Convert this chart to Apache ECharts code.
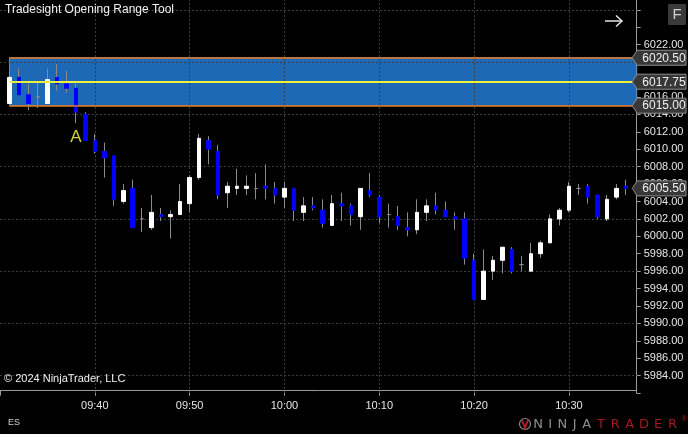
<!DOCTYPE html>
<html><head><meta charset="utf-8">
<script src="https://cdn.jsdelivr.net/npm/echarts@6/dist/echarts.min.js"></script>
<style>html,body{margin:0;padding:0;background:#000;}#c{width:688px;height:434px;}</style>
</head><body><div id="c"></div>
<script>
// ---------- data ----------
const times = ['09:31','09:32','09:33','09:34','09:35','09:36','09:37','09:38','09:39','09:40',
  '09:41','09:42','09:43','09:44','09:45','09:46','09:47','09:48','09:49','09:50',
  '09:51','09:52','09:53','09:54','09:55','09:56','09:57','09:58','09:59','10:00',
  '10:01','10:02','10:03','10:04','10:05','10:06','10:07','10:08','10:09','10:10',
  '10:11','10:12','10:13','10:14','10:15','10:16','10:17','10:18','10:19','10:20',
  '10:21','10:22','10:23','10:24','10:25','10:26','10:27','10:28','10:29','10:30',
  '10:31','10:32','10:33','10:34','10:35','10:36'];
const opens = [6015.25,6018.25,6016.25,6016,6015.25,6018.25,6017.5,6017,6014,6011,
  6009.75,6009.25,6004,6005.5,6002,6001,6002.5,6002.25,6002.5,6003.75,
  6006.75,6011,6009.75,6005,6005.5,6005.5,6005.5,6005.75,6005.5,6004.5,
  6005.5,6002.75,6003.5,6003,6001.25,6003.75,6003.5,6002.25,6005.25,6004.5,
  6002.5,6002.25,6001,6000.75,6002.75,6003.5,6003,6002.25,6002,5997.25,
  5992.75,5996,5997.25,5998.5,5996.75,5996,5998,5999.25,6002,6003,
  6005.5,6005.75,6004.75,6002,6004.5,6005.75];
const closes = [6018.25,6016.25,6015.25,6016,6018,6017.5,6017,6014.25,6011,6009.75,
  6009,6004.25,6005.25,6001,6002,6002.75,6002.25,6002.5,6004,6006.75,
  6011.25,6010,6004.75,6005.75,6005.75,6005.75,6005.5,6005.5,6004.75,6005.5,
  6003,6003.5,6003.25,6001.5,6003.75,6003.5,6002.5,6005.5,6004.75,6002.25,
  6002.5,6001.25,6000.75,6002.75,6003.5,6003,6002.25,6002,5997.5,5992.75,
  5996,5997.25,5998.75,5996,5996.75,5998,5999.25,6002,6003,6005.75,
  6005.5,6004.5,6002.25,6004.25,6005.5,6005.5];
const lows = [6015.25,6016.25,6014.5,6014.75,6015.25,6016.75,6016.5,6013,6011,6009.5,
  6006.75,6003.5,6003.75,6001,6000.5,6000.75,6001.75,5999.75,6002.5,6002.75,
  6006.5,6008.25,6004.25,6003.25,6004.75,6004.75,6004.25,6004.25,6003.75,6003.25,
  6001.75,6001.75,6003,6001,6001.25,6001.75,6001.25,6000.75,6004.5,6001.5,
  6001,6000.75,6000,6000.25,6001.75,6002.5,6002.25,6000.75,5996.75,5992.75,
  5992.75,5995,5995.75,5995.75,5996,5996,5997.5,5999.25,6001.25,6002.75,
  6004.75,6003.75,6002,6001.75,6004.25,6004.75];
const highs = [6018.25,6019.25,6017.5,6017.75,6019.25,6019.75,6019,6017.5,6014.25,6011.75,
  6010.75,6009.25,6006,6006.5,6003.25,6004.75,6003.25,6003,6006,6007,
  6011.75,6011.5,6010.5,6006.25,6007.75,6007,6007.25,6008.25,6006.25,6006.25,
  6005.5,6004.5,6004.5,6004.25,6004.75,6005,6003.75,6005.5,6007.25,6004.75,
  6003.75,6003.5,6002.75,6004.25,6004.25,6005,6004,6002.75,6002.75,5998,
  5998.5,5997.75,5998.75,5998.75,5997.75,5999.25,5999.5,6002.5,6003.25,6006.25,
  6006,6006,6004.75,6004.75,6006,6006.5];
const xTickLabels = ['09:40','09:50','10:00','10:10','10:20','10:30'];
const yLabelMin = 5984, yLabelMax = 6022, yLabelStep = 2;
const gridLevels = [5984,5990,5996,6002,6008,6014,6020,6026];
const orHigh = 6020.5, orMid = 6017.75, orLow = 6015.0;
const orStart = '09:31';
const signalTime = '09:38', signalText = 'A';
const sessionStart = '09:30';

// ---------- helpers ----------
const [h0, m0] = sessionStart.split(':').map(Number);
const toMin = s => { const [h, m] = s.split(':').map(Number); return h * 60 + m - (h0 * 60 + m0); };
const labelOf = v => { const tot = h0 * 60 + m0 + v; return String(Math.floor(tot / 60)).padStart(2, '0') + ':' + String(tot % 60).padStart(2, '0'); };
const xMax = 67.15;
const FONT = '"Liberation Sans", Arial, sans-serif';
const wickData = times.map((t, i) => [toMin(t), opens[i], closes[i], lows[i], highs[i]]);
const bodyData = times.map((t, i) => [toMin(t), opens[i], closes[i], Math.min(opens[i], closes[i]), Math.max(opens[i], closes[i])]);
const sigIdx = times.indexOf(signalTime);
const AXIS = '#9a9a9a';
const GRIDC = '#3e3e3e';

const chart = echarts.init(document.getElementById('c'), null, { renderer: 'canvas' });
chart.setOption({
  backgroundColor: '#000000',
  animation: false,
  grid: { left: 0, right: 51.3, top: -7.57, bottom: 40.9, containLabel: false, outerBoundsMode: 'none' },
  xAxis: {
    type: 'value', min: 0, max: xMax, interval: 10, offset: -2.4,
    axisLine: { show: true, onZero: false, lineStyle: { color: AXIS, width: 1 } },
    axisTick: { show: true, length: 5, lineStyle: { color: AXIS } },
    axisLabel: { margin: 10, color: '#e6e6e6', fontSize: 11, fontFamily: FONT, showMaxLabel: false,
      formatter: v => { const s = labelOf(v); return xTickLabels.includes(s) ? s : ''; } },
    splitLine: { show: false }
  },
  yAxis: {
    type: 'value', position: 'right', min: 5982, max: 6028, interval: yLabelStep, scale: true,
    axisLine: { show: true, onZero: false, lineStyle: { color: AXIS, width: 1 } },
    axisTick: { show: true, length: 4, lineStyle: { color: AXIS } },
    axisLabel: { margin: 7, color: '#e6e6e6', fontSize: 11, fontFamily: FONT,
      formatter: v => (v >= yLabelMin && v <= yLabelMax) ? v.toFixed(2) : '' },
    splitLine: { show: false }
  },
  series: [
    { type: 'line', data: [], silent: true,
      markArea: { silent: true, z: 1,
        itemStyle: { color: '#1d69b5', borderColor: '#6f8fb8', borderWidth: 1 },
        data: [[{ xAxis: toMin(orStart), yAxis: orLow }, { xAxis: xMax, yAxis: orHigh }]] },
      markLine: { silent: true, z: 2, symbol: ['none', 'none'], label: { show: false },
        lineStyle: { color: GRIDC, type: [2, 2], width: 1 },
        data: gridLevels.map(v => ({ yAxis: v })).concat(xTickLabels.map(s => ({ xAxis: toMin(s) }))) } },
    { type: 'candlestick', name: 'wick', z: 3, barWidth: 0.5, silent: true,
      dimensions: ['t', 'open', 'close', 'lowest', 'highest'],
      encode: { x: 't', y: ['open', 'close', 'lowest', 'highest'] },
      itemStyle: { color: '#8a8a8a', color0: '#8a8a8a', borderColor: '#8a8a8a', borderColor0: '#8a8a8a', borderColorDoji: '#8a8a8a', borderWidth: 1 },
      data: wickData },
    { type: 'candlestick', name: 'body', z: 4, barWidth: 4, silent: true,
      dimensions: ['t', 'open', 'close', 'lowest', 'highest'],
      encode: { x: 't', y: ['open', 'close', 'lowest', 'highest'] },
      itemStyle: { color: '#ffffff', color0: '#0000ff', borderColor: '#ffffff', borderColor0: '#0000ff', borderColorDoji: '#8a8a8a', borderWidth: 1 },
      data: bodyData,
      markPoint: { silent: true, z: 7, symbol: 'circle', symbolSize: 0,
        label: { show: true, position: 'inside', offset: [0, 14], formatter: signalText, color: '#cdd435', fontSize: 17, fontFamily: FONT },
        data: [{ coord: [toMin(signalTime), lows[sigIdx]] }] } },
    { type: 'line', data: [], silent: true,
      markLine: { silent: true, z: 6, symbol: ['none', 'none'], label: { show: false },
        data: [
          [{ coord: [toMin(orStart), orHigh], lineStyle: { color: '#e0781e', width: 1.5, type: 'solid' } }, { coord: [xMax, orHigh] }],
          [{ coord: [toMin(orStart), orLow], lineStyle: { color: '#e0781e', width: 1.5, type: 'solid' } }, { coord: [xMax, orLow] }],
          [{ coord: [toMin(orStart), orMid], lineStyle: { color: '#ecf03a', width: 2, type: 'solid' } }, { coord: [xMax, orMid] }]
        ] } }
  ]
});

// price tags on the axis
const tagVals = [orHigh, orMid, orLow, closes[closes.length - 1]];
const axisX = chart.convertToPixel({ xAxisIndex: 0 }, xMax);
const g = [];
tagVals.forEach(v => {
  const y = chart.convertToPixel({ yAxisIndex: 0 }, v);
  g.push({ type: 'polygon', z: 100, shape: { points: [[axisX - 4.5, y], [axisX + 0.5, y - 7.5], [686, y - 7.5], [686, y + 7.5], [axisX + 0.5, y + 7.5]] },
    style: { fill: '#383838', stroke: '#8c8c8c', lineWidth: 1 } });
  g.push({ type: 'text', z: 101, x: 664, y: y + 0.5, style: { text: v.toFixed(2), fill: '#f0f0f0', font: '12px ' + FONT, align: 'center', verticalAlign: 'middle' } });
});
// static decorations
g.push({ type: 'text', z: 100, x: 5, y: 10, style: { text: 'Tradesight Opening Range Tool', fill: '#f2f2f2', font: '12px ' + FONT, verticalAlign: 'middle' } });
g.push({ type: 'text', z: 100, x: 4, y: 379, style: { text: '\u00a9 2024 NinjaTrader, LLC', fill: '#f2f2f2', font: '11px ' + FONT, verticalAlign: 'middle' } });
g.push({ type: 'text', z: 100, x: 8, y: 423, style: { text: 'ES', fill: '#d0d0d0', font: '9px ' + FONT, verticalAlign: 'middle' } });
g.push({ type: 'polyline', z: 100, shape: { points: [[605, 21], [622, 21]] }, style: { stroke: '#e6e6e6', lineWidth: 1.5 } });
g.push({ type: 'polyline', z: 100, shape: { points: [[616, 15.5], [622, 21], [616, 26.5]] }, style: { stroke: '#e6e6e6', lineWidth: 1.5, fill: null } });
g.push({ type: 'rect', z: 100, shape: { x: 668, y: 4, width: 18, height: 21, r: 1 }, style: { fill: '#3a3a3a' } });
g.push({ type: 'text', z: 101, x: 677, y: 14.5, style: { text: 'F', fill: '#d0d0d0', font: '15px ' + FONT, align: 'center', verticalAlign: 'middle' } });
// logo
g.push({ type: 'circle', z: 100, shape: { cx: 525, cy: 424, r: 5.5 }, style: { stroke: '#8a8a8a', fill: null, lineWidth: 1.2 } });
g.push({ type: 'polyline', z: 101, shape: { points: [[522, 420], [525, 428], [528, 420]] }, style: { stroke: '#b01e23', lineWidth: 2, fill: null } });
const ninja = ['N', 'I', 'N', 'J', 'A'], trader = ['T', 'R', 'A', 'D', 'E', 'R'];
ninja.forEach((ch, i) => g.push({ type: 'text', z: 100, x: 538 + i * 12.2, y: 424.5, style: { text: ch, fill: '#8e8e8e', font: '13px "DejaVu Sans", sans-serif', align: 'center', verticalAlign: 'middle' } }));
trader.forEach((ch, i) => g.push({ type: 'text', z: 100, x: 601 + i * 14.3, y: 424.5, style: { text: ch, fill: '#a8191e', font: '13px "DejaVu Sans", sans-serif', align: 'center', verticalAlign: 'middle' } }));
g.push({ type: 'text', z: 100, x: 684, y: 419, style: { text: '\u00ae', fill: '#a8191e', font: '7px ' + FONT, align: 'center', verticalAlign: 'middle' } });
chart.setOption({ graphic: g });
</script></body></html>
